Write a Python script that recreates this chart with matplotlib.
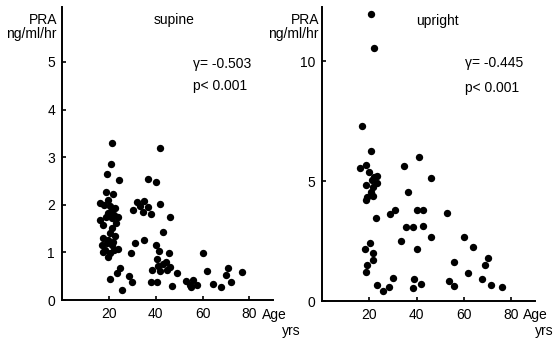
import matplotlib
matplotlib.use("Agg")
import matplotlib.pyplot as plt

plt.rcParams['font.family'] = ['Liberation Sans', 'DejaVu Sans']

# supine: age (yrs), PRA (ng/ml/hr)
supine_age = [21.3, 20.8, 19.0, 24.3,
              18.7, 21.7, 16.2, 19.6, 22.6, 20.3, 17.8,
              16.2, 19.5, 20.8, 22.0, 23.8, 21.3, 17.5, 21.3, 23.2, 18.6,
              20.4, 22.6, 17.5, 19.6, 21.7, 17.0, 19.1, 21.3, 23.8, 17.5, 20.4, 19.6, 22.3, 18.5,
              24.7, 23.4, 20.4, 25.5,
              28.5, 29.8, 29.4, 31.1, 34.9,
              32.0, 35.0, 33.2, 30.2, 36.6, 34.5, 37.9, 41.7, 46.0, 36.6, 40.0, 41.7,
              43.0, 40.0, 41.3, 45.5, 40.4, 38.3, 41.0, 43.0, 44.5, 42.0, 44.8, 46.0, 48.9, 38.0, 40.4, 46.8,
              53.0, 54.5, 55.7, 57.4, 54.9,
              60.0, 61.7, 64.3, 68.0, 69.8, 71.0, 72.0, 77.0]
supine_pra = [3.30, 2.85, 2.64, 2.52,
              2.27, 2.23, 2.03, 2.10, 1.93, 1.98, 2.00,
              1.68, 1.82, 1.85, 1.78, 1.75, 1.72, 1.58, 1.51, 1.62, 1.75,
              1.41, 1.34, 1.30, 1.26, 1.22, 1.16, 1.20, 1.16, 1.07, 1.01, 0.99, 0.90, 1.05, 1.05,
              0.67, 0.57, 0.44, 0.21,
              0.50, 0.38, 0.98, 1.19, 1.26,
              2.06, 2.08, 1.97, 1.88, 1.95, 1.85, 1.80, 2.02, 1.74, 2.54, 2.48, 3.20,
              1.43, 1.16, 1.03, 0.99, 0.86, 0.63, 0.72, 0.76, 0.80, 0.60, 0.62, 0.70, 0.56, 0.38, 0.38, 0.30,
              0.40, 0.32, 0.42, 0.32, 0.28,
              0.99, 0.60, 0.34, 0.27, 0.52, 0.67, 0.38, 0.58]

# upright
upright_age = [20.6, 21.9, 16.8, 20.6, 18.5, 16.0, 19.8, 21.9, 23.2, 21.0, 23.2, 18.5, 21.5, 20.6, 19.2, 21.5, 18.5,
               40.8, 34.5, 45.9, 36.2, 31.0, 28.6, 40.0, 42.9, 53.0, 22.7, 35.4, 38.3, 42.9, 33.3, 45.9, 40.0, 59.8, 63.6,
               18.1, 20.2, 21.5, 21.5, 18.9, 18.5,
               55.6, 70.3, 69.0, 61.9, 67.4, 53.5, 55.6, 71.2, 76.2,
               29.9, 28.2, 23.2, 25.7, 38.7, 38.3, 41.7]
upright_pra = [11.96, 10.54, 7.30, 6.25, 5.67, 5.54, 5.38, 5.17, 5.20, 5.04, 4.92, 4.83, 4.75, 4.54, 4.33, 4.38, 4.21,
               6.00, 5.63, 5.13, 4.54, 3.79, 3.63, 3.79, 3.79, 3.67, 3.46, 3.08, 3.08, 3.13, 2.50, 2.67, 2.17, 2.67, 2.25,
               2.17, 2.42, 2.00, 1.71, 1.50, 1.21,
               1.63, 1.79, 1.50, 1.17, 0.92, 0.83, 0.63, 0.67, 0.58,
               0.96, 0.58, 0.67, 0.42, 0.92, 0.54, 0.71]

x_ticks = [20, 40, 60, 80]
supine_yticks = [0, 1, 2, 3, 4, 5]
upright_yticks = [0, 5, 10]

fig = plt.figure(figsize=(5.55, 3.39), dpi=100)
ax1 = fig.add_axes([0.1117, 0.115, 0.380, 0.864])
ax2 = fig.add_axes([0.580, 0.112, 0.384, 0.867])


def style(ax):
    for s in ['top', 'right']:
        ax.spines[s].set_visible(False)
    for s in ['left', 'bottom']:
        ax.spines[s].set_linewidth(1.4)
    ax.tick_params(direction='in', length=3, width=1.2, labelsize=10, pad=5)
    ax.set_xticks(x_ticks)
    ax.set_xlim(0, 90)


ax1.scatter(supine_age, supine_pra, s=28, c='black', linewidths=0)
style(ax1)
ax1.set_ylim(0, 6.15)
ax1.set_yticks(supine_yticks)
ax1.text(0.53, 0.956, 'supine', transform=ax1.transAxes, fontsize=10, ha='center', va='center')
ax1.text(0.62, 0.805, 'γ= -0.503', transform=ax1.transAxes, fontsize=10, va='center')
ax1.text(0.62, 0.73, 'p< 0.001', transform=ax1.transAxes, fontsize=10, va='center')

ax2.scatter(upright_age, upright_pra, s=28, c='black', linewidths=0)
style(ax2)
ax2.set_ylim(0, 12.25)
ax2.set_yticks(upright_yticks)
ax2.text(0.54, 0.952, 'upright', transform=ax2.transAxes, fontsize=10, ha='center', va='center')
ax2.text(0.67, 0.81, 'γ= -0.445', transform=ax2.transAxes, fontsize=10, va='center')
ax2.text(0.67, 0.724, 'p< 0.001', transform=ax2.transAxes, fontsize=10, va='center')

# axis labels
fig.text(57 / 555, 1 - 20 / 339, 'PRA', fontsize=10, ha='right', va='center')
fig.text(57 / 555, 1 - 34 / 339, 'ng/ml/hr', fontsize=10, ha='right', va='center')
fig.text(319 / 555, 1 - 20 / 339, 'PRA', fontsize=10, ha='right', va='center')
fig.text(319 / 555, 1 - 34 / 339, 'ng/ml/hr', fontsize=10, ha='right', va='center')
fig.text(262 / 555, 1 - 315 / 339, 'Age', fontsize=10, ha='left', va='center')
fig.text(282 / 555, 1 - 331 / 339, 'yrs', fontsize=10, ha='left', va='center')
fig.text(523 / 555, 1 - 315 / 339, 'Age', fontsize=10, ha='left', va='center')
fig.text(554 / 555, 1 - 331 / 339, 'yrs', fontsize=10, ha='right', va='center')

fig.savefig('out.png', dpi=100)
